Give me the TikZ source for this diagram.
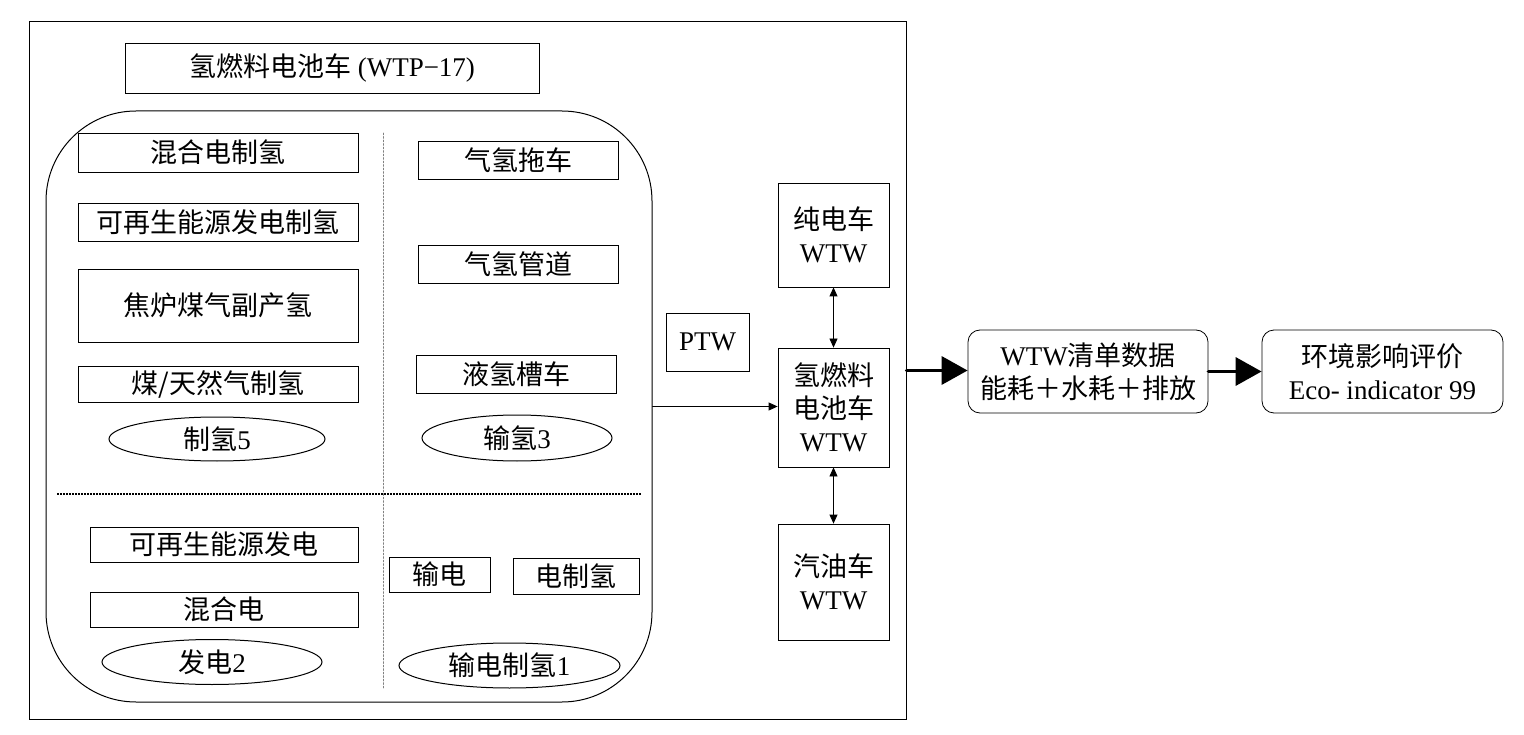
\documentclass[tikz,border=0pt]{standalone}
\usepackage{fontspec}
\setmainfont{Liberation Serif}
\newfontfamily\cjkfont{Noto Sans CJK SC}
\newcommand{\zh}[1]{{\cjkfont #1}}
\usetikzlibrary{shapes.geometric,arrows.meta}

\begin{document}
\begin{tikzpicture}
	[x=1pt,y=-1pt,line cap=round,
	%Styles
	every node/.style={font=\fontsize{27}{33}\selectfont,inner sep=0pt,line width=0.8pt},
	box/.style={rectangle,draw,align=center},
	oval/.style={ellipse,draw,line width=1pt},
	soft box/.style={rectangle,draw,rounded corners=12pt,align=center},
	thin arrow/.style={line width=0.8pt,-{Triangle[length=9pt,width=8pt]}},
	thin double/.style={line width=0.8pt,{Triangle[length=9pt,width=8pt]}-{Triangle[length=9pt,width=8pt]}},
	fat arrow/.style={line width=3.5pt,-{Triangle[length=26pt,width=28pt]}}
	]
	\useasboundingbox (0,0) rectangle (1524,735);

	%Frames
	\node[box,line width=1pt,minimum width=877pt,minimum height=697pt] (frame) at (467.5,370.5) {};
	\node[box,line width=1pt,rounded corners=90pt,minimum width=606pt,minimum height=591pt] (route) at (349,406.5) {};
	\node[box,minimum width=414pt,minimum height=50pt] (title) at (332,68) {\zh{氢燃料电池车} (WTP−17)};

	%Quarters
	\draw[line width=1.5pt,line cap=butt,dash pattern=on 1.5pt off 1.5pt] (57,494) -- (641,494);
	\draw[gray,line width=0.5pt,dash pattern=on 2pt off 1.5pt] (383,133) -- (383,688);

	%Hydrogen production
	\node[box,minimum width=280pt,minimum height=39pt] (mixh) at (218,152.5) {\zh{混合电制氢}};
	\node[box,minimum width=280pt,minimum height=38pt] (renh) at (218,222) {\zh{可再生能源发电制氢}};
	\node[box,minimum width=280pt,minimum height=73pt] (coke) at (218,305.5) {\zh{焦炉煤气副产氢}};
	\node[box,minimum width=280pt,minimum height=36pt] (coal) at (218,384) {\zh{煤/天然气制氢}};
	\node[oval,minimum width=216pt,minimum height=44pt] (prod) at (217,439) {\zh{制氢}5};

	%Hydrogen transport
	\node[box,minimum width=200pt,minimum height=38pt] (tube) at (518,160) {\zh{气氢拖车}};
	\node[box,minimum width=200pt,minimum height=38pt] (pipe) at (518,264) {\zh{气氢管道}};
	\node[box,minimum width=200pt,minimum height=38pt] (tank) at (516,374) {\zh{液氢槽车}};
	\node[oval,minimum width=190pt,minimum height=46pt] (trans) at (517,438) {\zh{输氢}3};

	%Power generation
	\node[box,minimum width=268pt,minimum height=35pt] (renp) at (224,544.5) {\zh{可再生能源发电}};
	\node[box,minimum width=268pt,minimum height=35pt] (mixp) at (224,609.5) {\zh{混合电}};
	\node[oval,minimum width=220pt,minimum height=45pt] (gen) at (212,662) {\zh{发电}2};

	%Grid and electrolysis
	\node[box,minimum width=101pt,minimum height=35pt] (grid) at (439.5,574.5) {\zh{输电}};
	\node[box,minimum width=126pt,minimum height=36pt] (elec) at (576,576) {\zh{电制氢}};
	\node[oval,minimum width=221pt,minimum height=45pt] (gride) at (509.5,665.5) {\zh{输电制氢}1};

	%Vehicles
	\node[box,minimum width=83pt,minimum height=58pt] (ptw) at (707.5,342) {PTW};
	\node[box,minimum width=111pt,minimum height=104pt] (bev) at (833.5,235) {\zh{纯电车}\\WTW};
	\node[box,minimum width=111pt,minimum height=119pt] (fcv) at (833.5,407.5) {\zh{氢燃料}\\\zh{电池车}\\WTW};
	\node[box,minimum width=111pt,minimum height=116pt] (icev) at (833.5,582) {\zh{汽油车}\\WTW};

	%Results
	\node[soft box,minimum width=240pt,minimum height=83pt] (inv) at (1088,371.5) {WTW\zh{清单数据}\\\zh{能耗＋水耗＋排放}};
	\node[soft box,minimum width=241pt,minimum height=83pt] (eco) at (1382.5,371.5) {\zh{环境影响评价}\\Eco- indicator 99};

	%Connectors
	\draw[thin arrow] (route.east) -- (route.east -| fcv.west);
	\draw[thin double] (bev) -- (fcv);
	\draw[thin double] (fcv) -- (icev);
	\draw[fat arrow] (frame.east) -- (frame.east -| inv.west);
	\draw[fat arrow] (inv) -- (eco);
\end{tikzpicture}
\end{document}
